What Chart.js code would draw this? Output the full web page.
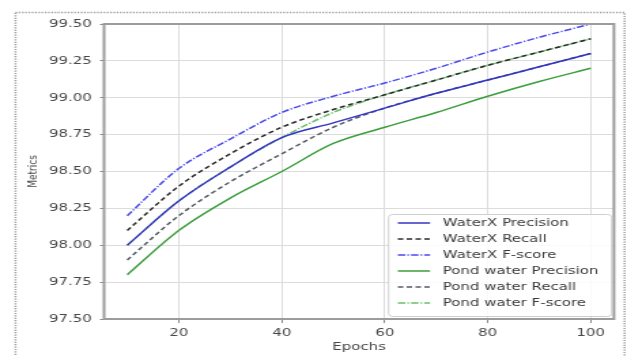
<!DOCTYPE html>
<html>
<head>
<meta charset="utf-8">
<script src="https://cdn.jsdelivr.net/npm/chart.js@4/dist/chart.umd.min.js"></script>
<style>
  html, body { margin: 0; padding: 0; background: #fff; overflow: hidden; }
  /* the reference figure is stretched sideways, so draw narrow and stretch */
  #wrap { width: 461px; height: 356px; transform: scaleX(1.3601); transform-origin: 0 0; }
</style>
</head>
<body>
<div id="wrap"><canvas id="chart" width="461" height="356"></canvas></div>
<script>
// values
const epochs = [10, 20, 30, 40, 50, 60, 70, 80, 90, 100];
const waterxPrecision = [98.00, 98.30, 98.53, 98.73, 98.83, 98.93, 99.03, 99.12, 99.21, 99.30];
const waterxRecall    = [98.10, 98.40, 98.62, 98.80, 98.92, 99.02, 99.12, 99.22, 99.31, 99.40];
const waterxFscore    = [98.20, 98.52, 98.72, 98.90, 99.01, 99.10, 99.20, 99.31, 99.41, 99.50];
const pondPrecision   = [97.80, 98.10, 98.32, 98.50, 98.69, 98.80, 98.90, 99.01, 99.11, 99.20];
const pondRecall      = [97.90, 98.20, 98.43, 98.62, 98.80, 98.93, 99.03, 99.12, 99.21, 99.30];
const pondFscore      = [98.00, 98.30, 98.53, 98.73, 98.90, 99.02, 99.12, 99.22, 99.31, 99.40];
const xTicks = [20, 40, 60, 80, 100];
const yTicks = [97.50, 97.75, 98.00, 98.25, 98.50, 98.75, 99.00, 99.25, 99.50];

const toPoints = vals => vals.map((v, i) => ({ x: epochs[i], y: v }));
const FONT = '"DejaVu Sans", sans-serif';

function series(label, vals, color, dash) {
  return {
    label: label,
    data: toPoints(vals),
    borderColor: color,
    backgroundColor: color,
    borderWidth: 1.5,
    borderDash: dash,
    pointRadius: 0,
    fill: false,
    cubicInterpolationMode: 'monotone'
  };
}

const datasets = [
  series('WaterX Precision', waterxPrecision, '#3434c4', []),
  series('WaterX Recall', waterxRecall, '#2a2a2a', [4, 2.5]),
  series('WaterX F-score', waterxFscore, '#4a4aee', [5.5, 1.5, 1.2, 1.5]),
  series('Pond water Precision', pondPrecision, '#3c9e3c', []),
  series('Pond water Recall', pondRecall, '#555a66', [4, 2.5]),
  series('Pond water F-score', pondFscore, '#6cbf6c', [5.5, 1.5, 1.2, 1.5])
];

// dotted frame round the figure, box round the plot, legend in the lower right
const decor = {
  id: 'decor',
  beforeDraw(chart) {
    const ctx = chart.ctx;
    ctx.save();
    ctx.strokeStyle = '#9a9a9a';
    ctx.lineWidth = 1.5;
    ctx.setLineDash([1.2, 1.2]);
    ctx.strokeRect(11.4, 12.5, 447.8, 345);
    ctx.restore();
  },
  afterDraw(chart) {
    const ctx = chart.ctx;
    const a = chart.chartArea;
    ctx.save();
    ctx.strokeStyle = '#9c9c9c';
    ctx.lineWidth = 2;
    ctx.strokeRect(a.left, a.top, a.right - a.left, a.bottom - a.top);

    const w = 164, h = 102;
    const bx = a.right - 2.2 - w, by = a.bottom - 3 - h;
    ctx.fillStyle = 'rgba(255,255,255,0.85)';
    ctx.strokeStyle = '#cfcfcf';
    ctx.lineWidth = 1;
    ctx.beginPath();
    ctx.roundRect(bx + 0.5, by + 0.5, w, h, 3);
    ctx.fill();
    ctx.stroke();

    ctx.font = '11px ' + FONT;
    ctx.textBaseline = 'middle';
    chart.data.datasets.forEach((ds, i) => {
      const y = by + 9 + i * 16;
      ctx.strokeStyle = ds.borderColor;
      ctx.lineWidth = 1.5;
      ctx.setLineDash(ds.borderDash);
      ctx.beginPath();
      ctx.moveTo(bx + 7.3, y);
      ctx.lineTo(bx + 31, y);
      ctx.stroke();
      ctx.setLineDash([]);
      ctx.fillStyle = '#3a3a3a';
      ctx.fillText(ds.label, bx + 40.4, y);
    });
    ctx.restore();
  }
};

new Chart(document.getElementById('chart'), {
  type: 'line',
  data: { datasets: datasets },
  plugins: [decor],
  options: {
    responsive: false,
    animation: false,
    layout: { padding: { left: 11, right: 9.6, top: 24, bottom: 0 } },
    plugins: { legend: { display: false }, tooltip: { enabled: false } },
    scales: {
      x: {
        type: 'linear',
        min: 5.5,
        max: 104.5,
        afterBuildTicks: s => { s.ticks = xTicks.map(v => ({ value: v })); },
        afterFit: s => { s.height = 37; },
        grid: { color: '#dcdcdc', tickColor: '#888', tickLength: 4 },
        border: { display: false },
        ticks: { color: '#484848', padding: 4, font: { family: FONT, size: 11 } },
        title: { display: true, text: 'Epochs', color: '#484848', padding: { top: 0, bottom: 2 }, font: { family: FONT, size: 11 } }
      },
      y: {
        min: 97.5,
        max: 99.5,
        afterBuildTicks: s => { s.ticks = yTicks.map(v => ({ value: v })); },
        afterFit: s => { s.width = 65.5; },
        grid: { color: '#dcdcdc', tickColor: '#888', tickLength: 3 },
        border: { display: false },
        ticks: { color: '#484848', padding: 5.9, font: { family: FONT, size: 11 }, callback: v => v.toFixed(2) },
        title: { display: true, text: 'Metrics', color: '#484848', padding: { top: 7.9, bottom: 0 }, font: { family: FONT, size: 9 } }
      }
    }
  }
});
</script>
</body>
</html>
